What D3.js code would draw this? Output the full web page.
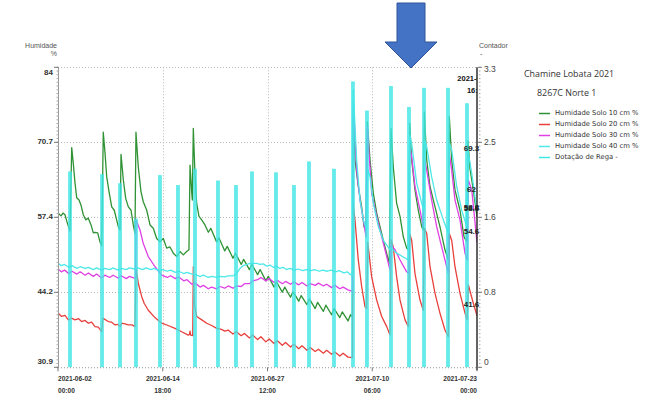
<!DOCTYPE html>
<html>
<head>
<meta charset="utf-8">
<script src="https://cdn.jsdelivr.net/npm/d3@7"></script>
<style>
  body { margin: 0; background: #fff; }
  svg { display: block; }
</style>
</head>
<body>
<svg id="chart" width="648" height="400"></svg>
<script>
// ---- data ---------------------------------------------------------------
const startTime = "2021-06-02 00:00";
const endTime = "2021-07-23 00:00";

const humidityTicks = [30.9, 44.175, 57.45, 70.725, 84];
const humidityTickLabels = ["30.9", "44.2", "57.4", "70.7", "84"];
const counterTicks = [0, 0.825, 1.65, 2.475, 3.3];
const counterTickLabels = ["0", "0.8", "1.6", "2.5", "3.3"];
const timeTicks = ["2021-06-02 00:00", "2021-06-14 18:00", "2021-06-27 12:00", "2021-07-10 06:00", "2021-07-23 00:00"];

const seriesNames = ["Humidade Solo 10 cm %", "Humidade Solo 20 cm %", "Humidade Solo 30 cm %", "Humidade Solo 40 cm %", "Dotação de Rega -"];

// [days since start, value %]
const solo10 = [
  [0,58.2],[0.37,57.7],[0.61,58.2],[0.85,57.9],[1.1,56.6],[1.46,55.0],[1.67,69.8],[1.86,67.0],[2.07,63.5],[2.28,60.9],
  [2.56,60.5],[2.8,59.6],[3.08,57.9],[3.37,57.0],[3.69,57.3],[4.02,56.1],[4.3,54.7],[4.5,54.8],[4.83,54.7],[5.11,53.1],
  [5.32,52.4],[5.51,72.5],[5.72,68.9],[5.93,64.6],[6.21,62.0],[6.54,59.3],[6.85,58.7],[7.14,57.0],[7.34,55.8],[7.55,55.2],
  [7.67,68.6],[7.95,64.1],[8.24,60.8],[8.56,59.3],[8.89,58.7],[9.16,56.1],[9.37,54.6],[9.49,72.5],[9.77,66.4],[10.1,62.0],
  [10.38,60.2],[10.8,58.7],[11.2,56.1],[11.6,55.5],[12.01,53.7],[12.41,53.1],[12.82,53.7],[13.23,52.0],[13.63,52.2],[14.03,51.1],
  [14.45,50.5],[14.85,51.4],[15.25,50.8],[15.66,51.4],[15.94,51.7],[16.07,66.7],[16.27,62.0],[16.35,60.5],[16.47,73.2],[16.67,65.2],
  [16.88,59.9],[17.16,57.6],[17.49,57.0],[17.89,56.1],[18.3,54.8],[18.6,55.5],[19.3,53.1],[19.6,53.8],[20.3,51.5],[20.6,52.3],
  [21.3,50.2],[21.6,51.1],[22.3,49.1],[22.6,50.0],[23.3,48.2],[23.6,49.1],[24.3,47.3],[24.6,48.2],[25.3,46.2],[25.6,47.0],
  [26.3,45.1],[26.6,46.0],[27.3,44.2],[27.6,45.1],[28.3,43.3],[28.6,44.3],[29.3,42.6],[29.6,43.6],[30.3,42.0],[30.6,43.0],
  [31.3,41.3],[31.6,42.4],[32.3,40.8],[32.6,41.9],[33.3,40.2],[33.6,41.3],[34.3,39.7],[34.6,40.7],[35.3,39.1],[35.6,40.2],
  [35.84,39.8],[35.94,75.6],[36.15,67.6],[36.55,62.9],[36.96,59.3],[37.25,55.8],[37.49,55.2],[37.65,74.4],[37.98,67.6],[38.38,61.7],
  [38.79,58.2],[39.19,55.8],[39.8,52.2],[40.32,49.3],[40.53,73.2],[40.81,66.4],[41.22,59.9],[41.63,57.6],[42.03,54.0],[42.44,52.0],
  [42.64,51.7],[42.81,74.1],[43.05,67.6],[43.45,62.3],[43.85,58.7],[44.27,55.8],[44.46,55.2],[44.59,76.1],[44.88,67.6],[45.28,62.9],
  [45.89,59.3],[46.49,55.8],[47.1,51.7],[47.51,49.9],[47.63,75.3],[47.92,67.6],[48.32,62.3],[48.93,58.7],[49.42,54.0],[49.75,53.1],
  [49.9,71.0],[50.15,66.0],[50.55,62.3],[51.0,57.5]
];

const solo20 = [
  [0,40.5],[0.45,39.9],[0.85,40.1],[1.25,39.3],[1.65,39.6],[2.07,39.3],[2.5,39.5],[2.88,39.0],[3.3,39.2],[3.69,38.7],
  [4.1,38.9],[4.5,38.1],[4.9,38.0],[5.32,37.2],[5.45,39.6],[6.12,39.0],[6.5,38.9],[6.94,38.4],[7.3,38.5],[7.55,38.1],
  [7.75,38.7],[8.15,38.6],[8.56,38.4],[9.0,38.4],[9.37,38.1],[9.5,48.3],[9.8,45.6],[10.19,43.4],[10.5,42.2],[10.99,41.0],
  [11.8,39.7],[12.62,38.7],[13.4,38.3],[14.24,37.8],[15.06,37.2],[15.86,36.6],[16.0,36.7],[16.07,37.3],[16.15,36.6],[16.4,36.5],
  [16.47,48.7],[16.6,42.0],[16.88,39.9],[17.5,39.3],[18.1,38.7],[18.7,38.3],[19.32,37.8],[19.9,37.6],[20.3,37.3],[20.7,37.5],
  [21.3,36.8],[21.7,37.2],[22.3,36.5],[22.7,36.9],[23.3,36.1],[23.7,36.6],[24.3,35.8],[24.7,36.3],[25.3,35.4],[25.7,35.9],
  [26.3,35.1],[26.7,35.6],[27.3,34.8],[27.7,35.3],[28.3,34.5],[28.7,35.0],[29.3,34.2],[29.7,34.7],[30.3,33.9],[30.7,34.4],
  [31.3,33.7],[31.7,34.1],[32.3,33.4],[32.7,33.9],[33.3,33.2],[33.7,33.6],[34.3,32.9],[34.7,33.4],[35.3,32.7],[35.84,32.6],
  [35.9,60.0],[36.15,57.0],[36.55,49.9],[36.96,45.2],[37.37,41.6],[37.57,41.3],[37.7,53.0],[37.77,52.2],[38.18,46.9],[38.79,42.8],
  [39.4,39.9],[40.01,38.1],[40.41,36.6],[40.55,53.5],[40.81,52.2],[41.22,46.9],[41.63,42.8],[42.24,39.3],[42.64,38.1],[42.81,54.5],
  [43.05,53.4],[43.45,47.5],[44.06,42.8],[44.46,41.0],[44.6,55.5],[44.88,54.6],[45.28,48.7],[45.89,44.0],[46.49,40.5],[47.1,37.5],
  [47.51,36.3],[47.65,54.5],[47.92,53.4],[48.32,48.7],[48.93,44.0],[49.54,40.5],[49.8,39.3],[49.95,45.5],[50.5,42.5],[51.0,40.0]
];

const solo30 = [
  [0,48.3],[0.4,47.8],[0.8,48.1],[1.3,47.5],[1.7,47.9],[2.3,47.4],[2.7,47.8],[3.3,47.2],[3.7,47.6],[4.3,47.0],
  [4.7,47.4],[5.3,46.7],[5.7,47.2],[6.3,46.8],[6.7,47.2],[7.3,46.7],[7.7,47.1],[8.3,46.6],[8.7,47.0],[9.3,46.7],
  [9.45,46.8],[9.5,57.0],[9.98,55.2],[10.38,52.8],[10.99,50.5],[11.81,48.7],[12.62,47.2],[13.3,46.8],[13.7,47.1],[14.3,46.6],
  [14.7,46.9],[15.3,46.2],[15.7,46.4],[16.3,45.6],[16.7,45.8],[17.3,45.1],[17.7,45.4],[18.3,44.8],[18.7,45.1],[19.3,44.8],
  [19.7,45.2],[20.3,44.9],[20.7,45.3],[21.3,44.9],[21.7,45.3],[22.3,45.2],[22.7,45.7],[23.3,45.7],[23.7,46.2],[24.3,46.4],
  [24.7,46.8],[25.3,46.2],[25.7,46.6],[26.3,45.9],[26.7,46.3],[27.3,45.7],[27.7,46.1],[28.3,45.6],[28.7,46.0],[29.3,45.5],
  [29.7,45.9],[30.3,45.3],[30.7,45.7],[31.3,45.4],[31.7,45.8],[32.3,45.3],[32.7,45.6],[33.3,45.0],[33.7,45.4],[34.3,44.8],
  [34.7,45.1],[35.3,44.6],[35.7,44.4],[35.84,44.2],[35.94,78.0],[36.35,65.8],[36.76,60.5],[37.16,57.0],[37.49,54.0],[37.65,73.5],
  [38.18,61.7],[38.79,57.6],[39.4,54.0],[40.01,50.5],[40.41,48.1],[40.55,52.5],[41.02,51.7],[41.63,49.9],[42.44,47.8],[42.7,47.5],
  [42.81,70.0],[43.05,68.2],[43.45,62.9],[44.06,58.7],[44.46,55.8],[44.6,68.0],[44.95,65.2],[45.48,60.5],[46.09,55.8],[46.7,52.2],
  [47.31,48.7],[47.51,47.5],[47.65,68.5],[47.92,65.8],[48.32,60.5],[48.93,57.0],[49.54,51.1],[49.82,49.9],[49.95,64.0],[50.36,62.3],
  [51.0,53.0]
];

const solo40 = [
  [0,49.3],[0.4,48.9],[0.8,49.1],[1.3,48.6],[1.7,48.9],[2.3,48.4],[2.7,48.7],[3.3,48.4],[3.7,48.6],[4.3,48.2],
  [4.7,48.5],[5.3,48.1],[5.7,48.4],[6.3,48.2],[6.7,48.5],[7.3,48.1],[7.7,48.4],[8.3,48.2],[8.7,48.5],[9.3,48.3],
  [9.7,48.5],[10.3,48.2],[10.7,48.5],[11.3,48.2],[11.7,48.4],[12.3,48.0],[12.7,48.2],[13.3,47.9],[13.7,48.1],[14.3,47.7],
  [14.7,47.9],[15.3,47.5],[15.7,47.7],[16.3,47.4],[16.7,47.3],[17.3,47.0],[17.7,47.2],[18.3,46.8],[18.7,47.0],[19.3,46.8],
  [19.7,47.0],[20.3,46.9],[20.7,47.1],[21.3,47.1],[21.7,47.4],[22.15,48.4],[22.55,48.9],[23.0,49.1],[23.4,49.3],[24.2,49.3],
  [24.6,49.1],[25.0,49.2],[25.4,48.8],[25.8,49.0],[26.2,48.6],[26.6,48.8],[27.0,48.4],[27.4,48.6],[27.8,48.2],[28.2,48.4],
  [28.8,48.1],[29.2,48.3],[29.8,48.0],[30.2,48.2],[30.8,48.0],[31.2,48.2],[31.8,47.9],[32.2,48.1],[32.8,47.9],[33.2,48.1],
  [33.8,47.8],[34.2,48.0],[34.8,47.6],[35.2,47.8],[35.6,47.3],[35.84,47.2],[35.94,80.0],[36.35,67.6],[36.76,60.5],[37.16,57.0],
  [37.57,55.2],[37.7,66.0],[37.98,64.6],[38.38,59.9],[38.99,55.8],[39.59,53.4],[40.41,51.7],[40.6,52.0],[41.22,51.1],[42.64,49.9],
  [42.81,72.0],[43.05,70.5],[43.66,63.5],[44.27,59.9],[44.55,58.7],[44.65,71.0],[44.88,69.9],[45.48,64.6],[46.09,60.5],[46.9,57.0],
  [47.51,54.6],[47.65,70.5],[47.92,69.4],[48.53,62.9],[49.14,58.7],[49.75,55.8],[49.9,69.3],[50.36,65.2],[51.0,58.6]
];

// irrigation counter: day offset and counter value
const regaDays = [1.46, 5.36, 7.55, 9.49, 12.41, 14.6, 16.67, 19.47, 21.66, 23.61, 26.53, 28.72, 30.55, 33.59, 35.9, 37.6, 40.53, 42.72, 44.55, 47.47, 49.78];
const regaValues = [2.15, 2.12, 2.02, 1.63, 2.11, 2.00, 2.18, 2.05, 2.00, 2.15, 2.14, 2.00, 2.26, 2.18, 3.14, 2.82, 3.09, 2.86, 3.07, 3.07, 2.90];

// readout at the cursor
const cursorTime = ["2021-07-22", "16:00"];
const cursorValues = [69.3, 62, 58.8, 58.6, 54.6, 41.6];

// ---- drawing ------------------------------------------------------------
const parseTime = d3.timeParse("%Y-%m-%d %H:%M");
const t0 = parseTime(startTime);
const dayDate = d => new Date(t0.getTime() + d * 864e5);

const plot = { left: 58, right: 477, top: 67.3, bottom: 367.3 };
const colors = ["#2f9234", "#e8403c", "#e040e4", "#4ee8e8", "#40e6e6"];
const arial = "Liberation Sans, Arial, sans-serif";

const svg = d3.select("#chart");
const x = d3.scaleTime().domain([t0, parseTime(endTime)]).range([plot.left, plot.right]);
const yL = d3.scaleLinear().domain([30.9, 84]).range([plot.bottom, plot.top]);
const yR = d3.scaleLinear().domain([0, 3.3]).range([plot.bottom, plot.top]);

svg.append("defs").append("clipPath").attr("id", "plotClip")
  .append("rect").attr("x", plot.left).attr("y", plot.top - 1)
  .attr("width", plot.right - plot.left).attr("height", plot.bottom - plot.top + 1);

// grid
const grid = svg.append("g").attr("stroke", "#b8b8b8").attr("stroke-dasharray", "1,2").attr("stroke-width", 1);
humidityTicks.forEach(v => {
  grid.append("line").attr("x1", plot.left).attr("x2", plot.right)
    .attr("y1", Math.round(yL(v)) + 0.5).attr("y2", Math.round(yL(v)) + 0.5);
});
timeTicks.slice(1, -1).forEach(t => {
  const px = Math.round(x(parseTime(t))) + 0.5;
  grid.append("line").attr("x1", px).attr("x2", px).attr("y1", plot.top).attr("y2", plot.bottom);
});

// series lines
const plotArea = svg.append("g").attr("clip-path", "url(#plotClip)");
const line = d3.line().x(d => x(dayDate(d[0]))).y(d => yL(d[1]));
[solo10, solo20, solo30, solo40].forEach((s, i) => {
  plotArea.append("path").datum(s).attr("d", line)
    .attr("fill", "none").attr("stroke", colors[i]).attr("stroke-width", 1.3)
    .attr("stroke-linejoin", "round");
});

// irrigation bars
plotArea.append("g").selectAll("rect").data(regaDays).join("rect")
  .attr("x", d => x(dayDate(d)) - 1.5)
  .attr("width", 3)
  .attr("y", (d, i) => yR(regaValues[i]))
  .attr("height", (d, i) => yR(0) - yR(regaValues[i]))
  .attr("fill", colors[4]).attr("fill-opacity", 0.8)
  .attr("stroke", colors[4]).attr("stroke-opacity", 0.7).attr("stroke-width", 0.8);

// cursor time (clipped at the plot edge)
const cursorText = plotArea.append("text").attr("text-anchor", "middle")
  .attr("font-family", arial).attr("font-weight", "bold")
  .attr("font-size", 7.5).attr("fill", "#111");
cursorText.append("tspan").attr("x", 476.5).attr("y", 81).text(cursorTime[0]);
cursorText.append("tspan").attr("x", 476.5).attr("y", 92.5).text(cursorTime[1]);

// cursor values
svg.append("g").selectAll("text").data(cursorValues).join("text")
  .attr("x", 471.5).attr("y", d => yL(d) - 1.5)
  .attr("dominant-baseline", "middle").attr("text-anchor", "middle")
  .attr("font-family", arial).attr("font-weight", "bold")
  .attr("font-size", 8).attr("fill", "#222")
  .text(d => d3.format(".1~f")(d));

// left axis
const axL = svg.append("g").attr("transform", `translate(${plot.left},0)`);
axL.append("line").attr("x1", 0.5).attr("x2", 0.5).attr("y1", plot.top).attr("y2", plot.bottom).attr("stroke", "#999");
d3.range(0, 81).forEach(k => {
  const py = plot.top + k * (plot.bottom - plot.top) / 80;
  axL.append("line").attr("x1", -1.5).attr("x2", 0.5).attr("y1", py).attr("y2", py).attr("stroke", "#aaa");
});
humidityTicks.forEach((v, i) => {
  const py = yL(v);
  axL.append("line").attr("x1", -4).attr("x2", 0.5).attr("y1", py).attr("y2", py).attr("stroke", "#777");
  const shift = i === 0 ? -5 : (i === humidityTicks.length - 1 ? 6 : 0);
  axL.append("text").attr("x", -5).attr("y", py + shift)
    .attr("dominant-baseline", "middle").attr("text-anchor", "end")
    .attr("font-family", arial).attr("font-weight", "bold")
    .attr("font-size", 8).attr("fill", "#333").text(humidityTickLabels[i]);
});

// right axis
const axR = svg.append("g").attr("transform", `translate(${plot.right},0)`);
axR.append("line").attr("x1", 0).attr("x2", 0).attr("y1", plot.top).attr("y2", plot.bottom + 3)
  .attr("stroke", "#222").attr("stroke-width", 1.4);
d3.range(0, 81).forEach(k => {
  const py = plot.top + k * (plot.bottom - plot.top) / 80;
  axR.append("line").attr("x1", 2).attr("x2", 3.5).attr("y1", py).attr("y2", py).attr("stroke", "#aaa");
});
counterTicks.forEach((v, i) => {
  const py = yR(v);
  axR.append("line").attr("x1", 1).attr("x2", 5).attr("y1", py).attr("y2", py).attr("stroke", "#777");
  const shift = i === 0 ? -5 : (i === counterTicks.length - 1 ? 2.5 : 0);
  axR.append("text").attr("x", 7).attr("y", py + shift)
    .attr("dominant-baseline", "middle").attr("text-anchor", "start")
    .attr("font-family", arial)
    .attr("font-size", 8.5).attr("fill", "#444").text(counterTickLabels[i]);
});

// bottom axis
const axB = svg.append("g");
axB.append("line").attr("x1", plot.left).attr("x2", plot.right).attr("y1", plot.bottom + 0.5).attr("y2", plot.bottom + 0.5)
  .attr("stroke", "#aaa").attr("stroke-dasharray", "1,2");
timeTicks.forEach((t, i) => {
  const px = x(parseTime(t));
  axB.append("line").attr("x1", px).attr("x2", px).attr("y1", plot.bottom).attr("y2", plot.bottom + 4).attr("stroke", "#777");
  const anchor = i === 0 ? "start" : (i === timeTicks.length - 1 ? "end" : "middle");
  const parts = t.split(" ");
  const txt = axB.append("text").attr("text-anchor", anchor)
    .attr("font-family", arial).attr("font-weight", "bold")
    .attr("font-size", 6.6).attr("fill", "#333");
  txt.append("tspan").attr("x", px).attr("y", 380.5).text(parts[0]);
  txt.append("tspan").attr("x", px).attr("y", 393).text(parts[1]);
});

// axis titles
svg.append("text").attr("x", 57).attr("y", 48).attr("text-anchor", "end")
  .attr("font-family", arial).attr("font-size", 7).attr("fill", "#555").text("Humidade");
svg.append("text").attr("x", 57).attr("y", 56).attr("text-anchor", "end")
  .attr("font-family", arial).attr("font-size", 7).attr("fill", "#555").text("%");
svg.append("text").attr("x", 479).attr("y", 48).attr("text-anchor", "start")
  .attr("font-family", arial).attr("font-size", 7).attr("fill", "#555").text("Contador");
svg.append("text").attr("x", 480).attr("y", 56).attr("text-anchor", "start")
  .attr("font-family", arial).attr("font-size", 7).attr("fill", "#555").text("-");

// legend
const legend = svg.append("g");
legend.append("text").attr("x", 524).attr("y", 76.5)
  .attr("font-family", "Open Sans, sans-serif").attr("font-size", 8.9).attr("fill", "#333").text("Chamine Lobata 2021");
legend.append("text").attr("x", 537).attr("y", 96)
  .attr("font-family", "Open Sans, sans-serif").attr("font-size", 8.9).attr("fill", "#333").text("8267C Norte 1");
seriesNames.forEach((name, i) => {
  const ly = 113.5 + i * 11;
  legend.append("line").attr("x1", 539).attr("x2", 550).attr("y1", ly).attr("y2", ly)
    .attr("stroke", colors[i]).attr("stroke-width", 1.5);
  legend.append("text").attr("x", 555).attr("y", ly).attr("dominant-baseline", "middle")
    .attr("font-family", "DejaVu Sans, sans-serif").attr("font-size", 6.8).attr("fill", "#333").text(name);
});

// pointer arrow
const arrow = [[397, 3], [425, 3], [425, 42], [437, 42], [411, 68], [385, 42], [397, 42]];
svg.append("path").attr("d", d3.line()(arrow) + "Z")
  .attr("fill", "#4472c4").attr("stroke", "#2f5597").attr("stroke-width", 1);
</script>
</body>
</html>
